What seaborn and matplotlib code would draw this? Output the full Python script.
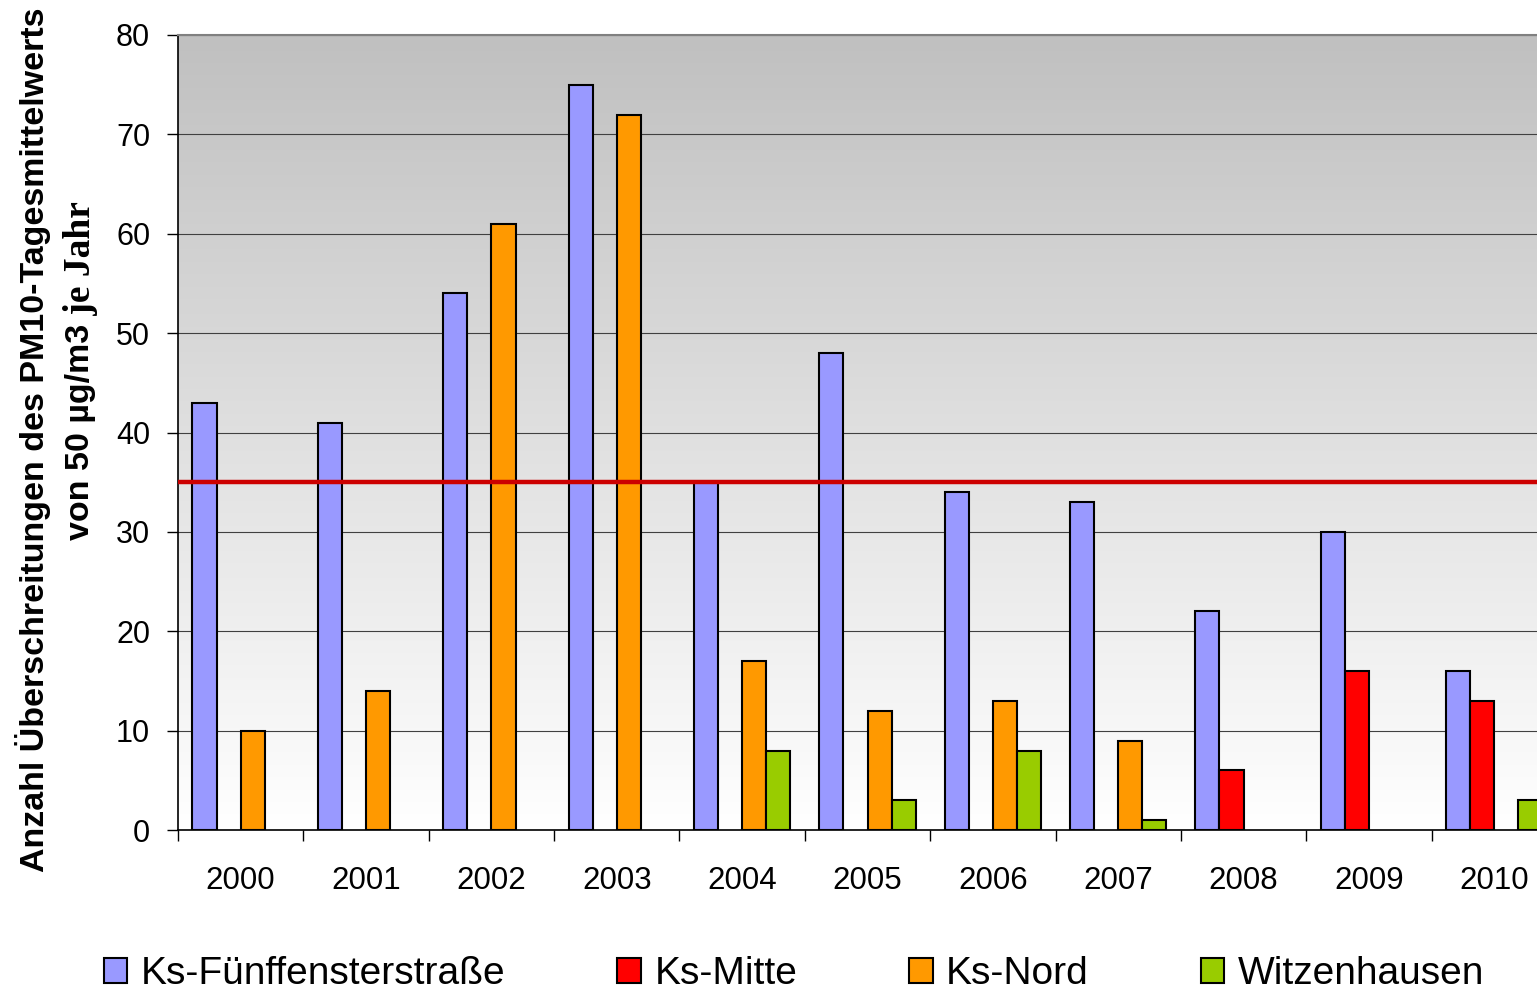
import numpy as np
import pandas as pd
import matplotlib
matplotlib.use("Agg")
import matplotlib.pyplot as plt
from matplotlib.colors import LinearSegmentedColormap
from matplotlib.patches import Patch
import seaborn as sns

# ---------------- DATA ----------------
years = ["2000", "2001", "2002", "2003", "2004", "2005",
         "2006", "2007", "2008", "2009", "2010"]
stations = ["Ks-Fünffensterstraße", "Ks-Mitte", "Ks-Nord", "Witzenhausen"]
nan = np.nan
fuenffenster = [43, 41, 54, 75, 35, 48, 34, 33, 22, 30, 16]
mitte = [nan, nan, nan, nan, nan, nan, nan, nan, 6, 16, 13]
nord = [10, 14, 61, 72, 17, 12, 13, 9, nan, nan, nan]
witzenhausen = [nan, nan, nan, nan, 8, 3, 8, 1, nan, nan, 3]
limit = 35
colors = ["#9999FF", "#FF0000", "#FF9900", "#99CC00"]

df = pd.DataFrame({"Jahr": years,
                   stations[0]: fuenffenster,
                   stations[1]: mitte,
                   stations[2]: nord,
                   stations[3]: witzenhausen})
df = df.melt(id_vars="Jahr", var_name="Station", value_name="Anzahl").dropna()

# ---------------- PLOT ----------------
sns.set_style("white")
plt.rcParams["font.family"] = ["Liberation Sans", "DejaVu Sans"]
plt.rcParams["text.color"] = "black"
plt.rcParams["xtick.color"] = "black"
plt.rcParams["ytick.color"] = "black"

fig = plt.figure(figsize=(15.37, 9.92), dpi=100)
ax = fig.add_axes([178 / 1537, 1 - 830 / 992, 1379 / 1537, 795 / 992])

# gradient background (white at bottom, gray at top)
cmap = LinearSegmentedColormap.from_list("bg", ["#FFFFFF", "#C0C0C0"])
grad = np.linspace(0, 1, 256).reshape(-1, 1)
ax.imshow(grad, extent=[0, 1, 0, 1], transform=ax.transAxes, aspect="auto",
          cmap=cmap, origin="lower", zorder=-2)

sns.barplot(data=df, x="Jahr", y="Anzahl", hue="Station", order=years,
            hue_order=stations, palette=colors, saturation=1, width=0.77,
            gap=0, edgecolor="black", linewidth=1.5, errorbar=None,
            legend=False, ax=ax, zorder=3)

ax.axhline(limit, color="#CC0000", linewidth=3.2, zorder=4)

ax.set_xlim(-0.5, len(years) - 0.5)
ax.set_ylim(0, 80)
ax.set_yticks(range(0, 81, 10))
ax.set_axisbelow(True)
ax.grid(axis="y", color="#404040", linewidth=0.8)
ax.grid(axis="x", visible=False)

ax.set_xticks(np.arange(-0.5, len(years), 1), minor=True)
ax.tick_params(axis="x", which="major", length=0, pad=26, labelsize=22.5,
               labelcolor="black")
ax.tick_params(axis="x", which="minor", length=8, width=1, color="black",
               direction="out", bottom=True)
ax.tick_params(axis="y", length=8, width=1, color="black", direction="out",
               left=True, pad=12, labelsize=22, labelcolor="black")

for side in ["left", "bottom"]:
    ax.spines[side].set_color("black")
    ax.spines[side].set_linewidth(1.2)
ax.spines["top"].set_color("#808080")
ax.spines["top"].set_linewidth(1.5)
ax.spines["right"].set_visible(False)
ax.set_xlabel("")
ax.set_ylabel("")

# y label (two lines, second line mixes sans and serif)
fig.text(33 / 1537, 1 - 440 / 992,
         "Anzahl Überschreitungen des PM10-Tagesmittelwerts",
         rotation=90, ha="center", va="center", fontsize=24.5,
         fontweight="bold", color="black")
t1 = fig.text(80 / 1537, 1 - 540 / 992, "von 50 µg/m3",
              rotation=90, ha="center", va="bottom", fontsize=24.5,
              fontweight="bold", color="black")
ax.annotate(" je Jahr", xy=(0.5, 1), xycoords=t1, ha="center", va="bottom",
            rotation=90, fontsize=27, fontweight="bold", color="black",
            family=["Liberation Serif", "DejaVu Serif"],
            annotation_clip=False)

# legend
handles = [Patch(facecolor=c, edgecolor="black", linewidth=1.5) for c in colors]
fig.legend(handles, stations, loc="center", ncol=4,
           bbox_to_anchor=(794 / 1537, 1 - 974 / 992), frameon=False,
           fontsize=28, handlelength=0.6, handleheight=0.6,
           handletextpad=0.35, columnspacing=2.88, borderpad=0)

fig.savefig("out.png", dpi=100)
